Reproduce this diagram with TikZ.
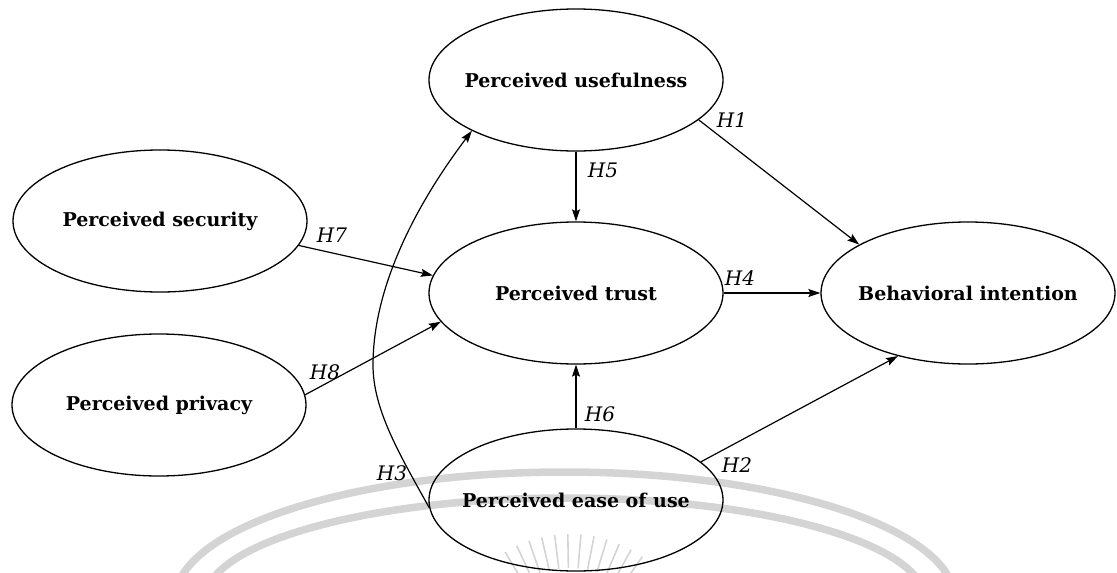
\documentclass[tikz,border=0pt]{standalone}
\usepackage{fontspec}
\setmainfont{DejaVu Serif}
\usetikzlibrary{arrows.meta,shapes.geometric}
\newcommand{\cname}[1]{\makebox[0pt]{#1}}
\begin{document}
\begin{tikzpicture}[x=1pt,y=-1pt,
  construct/.style={ellipse, draw, line width=1.3pt, minimum width=294pt,
    minimum height=142pt, inner sep=0pt,
    font=\fontsize{19}{22}\selectfont\bfseries},
  link/.style={draw, line width=1.2pt, -{Stealth[length=12pt,width=8pt,inset=2pt]}},
  hyp/.style={font=\fontsize{20}{22}\selectfont\itshape, inner sep=0pt},
  wm/.style={draw=black!17, line width=7.5pt},
  ray/.style={draw=black!17, line width=1.6pt}]
\useasboundingbox (0,0) rectangle (1117,573);

% faint seal in the background
\draw[wm] (565,600) ellipse [x radius=390, y radius=128];
\draw[wm] (565,600) ellipse [x radius=360, y radius=102];
\foreach \a in {55,61,...,125}
  \draw[ray] (570,660) ++(-\a:92) -- ++(-\a:34);

% constructs (text kept out of the shape size)
\node[construct] (useful) at (576,80)  {\cname{Perceived usefulness}};
\node[construct] (secur)  at (160,221) {\cname{Perceived security}};
\node[construct] (priv)   at (159,405) {\cname{Perceived privacy}};
\node[construct] (trust)  at (576,293) {\cname{Perceived trust}};
\node[construct] (behav)  at (968,293) {\cname{Behavioral intention}};
\node[construct] (ease)   at (576,500) {\cname{Perceived ease of use}};

% hypothesised paths
\coordinate (bend) at (373,365);
\draw[link] (useful.-18.7) -- (behav.156);
\draw[link] (useful.south) -- (trust.north);
\draw[link] (trust.east) -- (behav.west);
\draw[link] (ease.north) -- (trust.south);
\draw[link] (ease.17) -- (behav.222);
\draw[link] (secur.-10) -- (trust.173.7);
\draw[link] (priv.4) -- (trust.192.3);
\draw[link] (ease.183) .. controls (400,455) and (373,410) .. (bend)
  .. controls (373,285) and (418,202) .. (useful.206.6);

% path labels
\node[hyp] (h1) at (732,120) {H1};
\node[hyp] (h5) at (603,170) {H5};
\node[hyp] (h7) at (332,235) {H7};
\node[hyp] (h4) at (740,278) {H4};
\node[hyp] (h8) at (325,372) {H8};
\node[hyp] (h6) at (600,414) {H6};
\node[hyp] (h2) at (737,465) {H2};
\node[hyp] (h3) at (392,473) {H3};
\end{tikzpicture}
\end{document}
